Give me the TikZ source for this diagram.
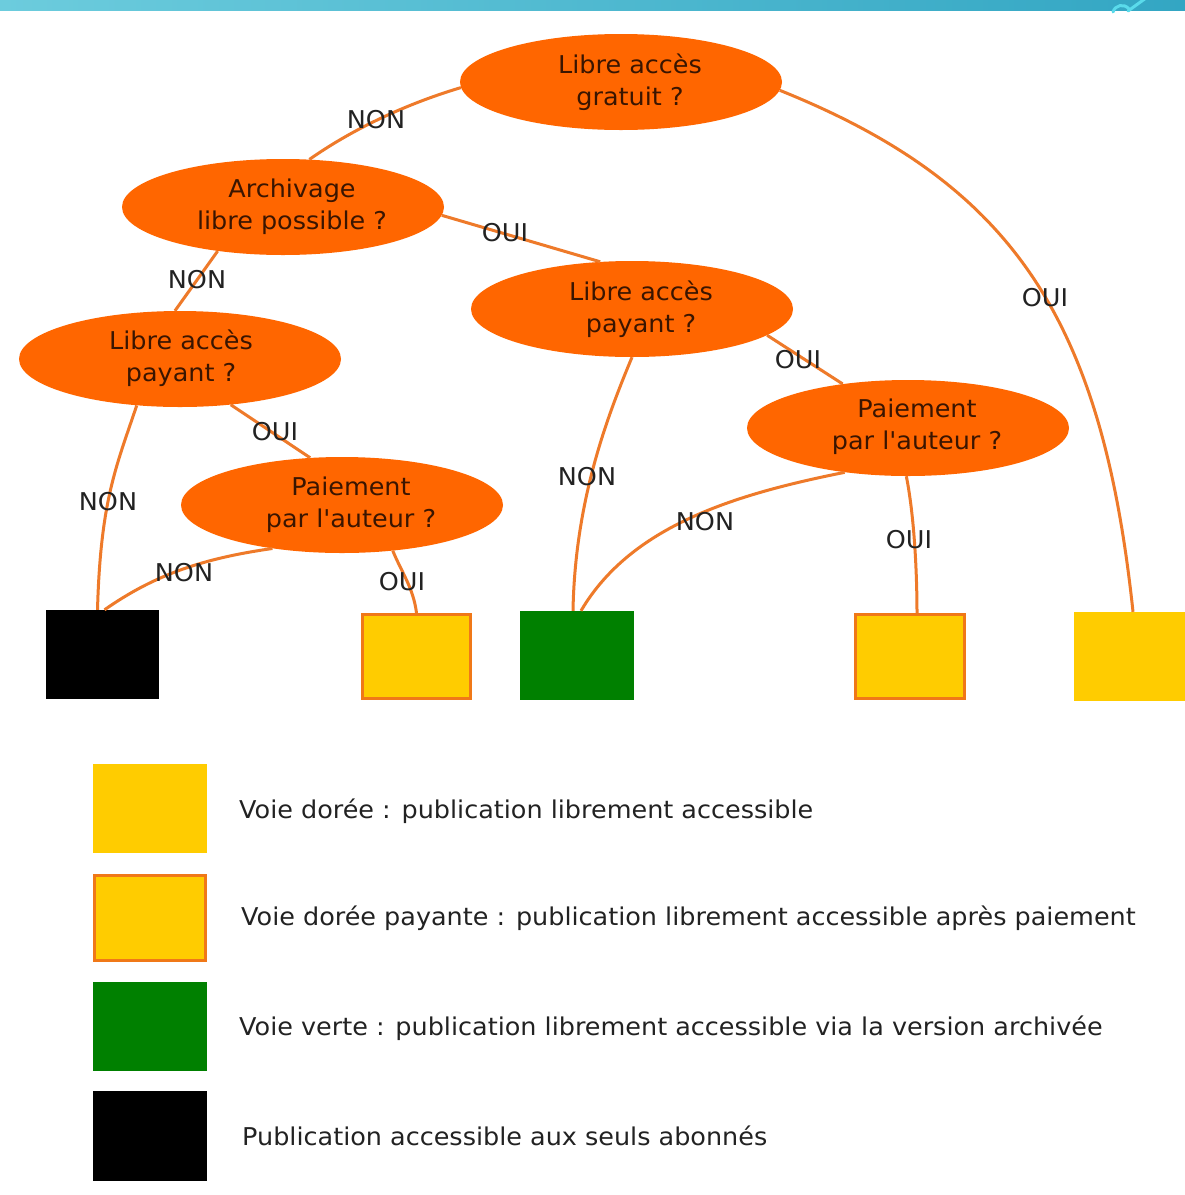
\documentclass[tikz,border=0pt]{standalone}
\usepackage{fontspec}
\setmainfont{DejaVu Sans}[Ligatures=TeXOff, FakeStretch=1.04]
\usetikzlibrary{shapes.geometric}
\definecolor{ora}{HTML}{FF6600}
\definecolor{lineo}{HTML}{EE7A2A}
\definecolor{gold}{HTML}{FFCC00}
\definecolor{vert}{HTML}{008000}
\definecolor{boxo}{HTML}{F07818}
\definecolor{barA}{HTML}{6CCCDD}
\definecolor{barB}{HTML}{33A6C3}
\definecolor{swoosh}{HTML}{5ADBEB}
\definecolor{txt}{HTML}{222222}
\definecolor{etxt}{HTML}{3A1500}
\begin{document}
\begin{tikzpicture}[x=1pt,y=-1pt,
  qnode/.style={ellipse, fill=ora, minimum width=322pt, minimum height=96pt, inner sep=0pt},
  qtext/.style={align=center, text=etxt, inner sep=0pt, font=\fontsize{24.5}{32}\selectfont},
  conn/.style={draw=lineo, line width=3pt},
  lbl/.style={text=txt, inner sep=0pt, font=\fontsize{24.5}{28}\selectfont},
  solidbox/.style={inner sep=0pt, draw=none},
  framebox/.style={inner sep=0pt, draw=boxo, line width=3pt, fill=gold},
  legtext/.style={anchor=west, text=txt, inner sep=0pt, font=\fontsize{24.5}{28}\selectfont}]
\useasboundingbox (0,0) rectangle (1185,1195);
\fill[white] (0,0) rectangle (1185,1195);
% top bar
\shade[left color=barA, right color=barB] (0,0) rectangle (1185,10);
\draw[swoosh, line width=3pt, line cap=round] (1113,12) .. controls (1115,5) and (1124,3) .. (1129,9);
\draw[swoosh, line width=3pt, line cap=round] (1128,11) -- (1146,-2);

% question nodes
\node[qnode] (e1) at (621,82) {};
\node[qnode] (e2) at (283,207) {};
\node[qnode] (e3) at (632,309) {};
\node[qnode] (e4) at (180,359) {};
\node[qnode] (e5) at (342,505) {};
\node[qnode] (e6) at (908,428) {};
\node[qtext] (e1t) at (630,82) {Libre accès\\gratuit ?};
\node[qtext] (e2t) at (292,207) {Archivage\\libre possible ?};
\node[qtext] (e3t) at (641,309) {Libre accès\\payant ?};
\node[qtext] (e4t) at (181,358) {Libre accès\\payant ?};
\node[qtext] (e5t) at (351,505) {Paiement\\par l'auteur ?};
\node[qtext] (e6t) at (917,427) {Paiement\\par l'auteur ?};

% outcome boxes
\node[solidbox, fill=black, minimum width=113pt, minimum height=89pt] (b1) at (102.5,654.5) {};
\node[framebox, minimum width=108pt, minimum height=84pt] (b2) at (416.5,656.5) {};
\node[solidbox, fill=vert, minimum width=114pt, minimum height=89pt] (b3) at (577,655.5) {};
\node[framebox, minimum width=109pt, minimum height=84pt] (b4) at (910,656.5) {};
\node[solidbox, fill=gold, minimum width=112pt, minimum height=89pt] (b5) at (1130,656.5) {};

% connectors
\draw[conn] (e1.182) .. controls +(-60,18) and +(40,-28) .. (e2.61);
\draw[conn] (e1.-3) .. controls +(234,94) and +(-31,-292) .. ([xshift=3pt]b5.north);
\draw[conn] (e2.-3) -- (e3.124);
\draw[conn] (e2.214) -- (e4.96);
\draw[conn] (e4.227) .. controls +(-20,60) and +(3,-110) .. ([xshift=-5pt]b1.north);
\draw[conn] (e4.-42) -- (e5.124);
\draw[conn] (e5.212) .. controls +(-70,10) and +(50,-35) .. ([xshift=2pt]b1.north);
\draw[conn] (e5.-42) .. controls +(8,20) and +(-3,-25) .. (b2.north);
\draw[conn] (e3.south) .. controls +(-25,60) and +(2,-110) .. ([xshift=-4pt]b3.north);
\draw[conn] (e3.-11.5) -- (e6.146);
\draw[conn] (e6.215) .. controls +(-110,22) and +(50,-85) .. ([xshift=4pt]b3.north);
\draw[conn] (e6.-92) .. controls +(8,40) and +(0,-40) .. ([xshift=7pt]b4.north);

% connector labels
\node[lbl] (l1) at (376,120) {NON};
\node[lbl] (l2) at (1045,298) {OUI};
\node[lbl] (l3) at (505,233) {OUI};
\node[lbl] (l4) at (197,280) {NON};
\node[lbl] (l5) at (108,502) {NON};
\node[lbl] (l6) at (275,432) {OUI};
\node[lbl] (l7) at (184,573) {NON};
\node[lbl] (l8) at (402,582) {OUI};
\node[lbl] (l9) at (587,477) {NON};
\node[lbl] (l10) at (798,360) {OUI};
\node[lbl] (l11) at (705,522) {NON};
\node[lbl] (l12) at (909,540) {OUI};

% legend
\node[solidbox, fill=gold, minimum width=114pt, minimum height=89pt] (k1) at (150,808.5) {};
\node[framebox, minimum width=111pt, minimum height=85pt] (k2) at (150,918) {};
\node[solidbox, fill=vert, minimum width=114pt, minimum height=89pt] (k3) at (150,1026.5) {};
\node[solidbox, fill=black, minimum width=114pt, minimum height=90pt] (k4) at (150,1136) {};
\node[legtext] (t1) at (239,811) {Voie dorée : publication librement accessible};
\node[legtext] (t2) at (241,918) {Voie dorée payante : publication librement accessible après paiement};
\node[legtext] (t3) at (239,1028) {Voie verte : publication librement accessible via la version archivée};
\node[legtext] (t4) at (242,1136) {Publication accessible aux seuls abonnés};
\end{tikzpicture}
\end{document}
